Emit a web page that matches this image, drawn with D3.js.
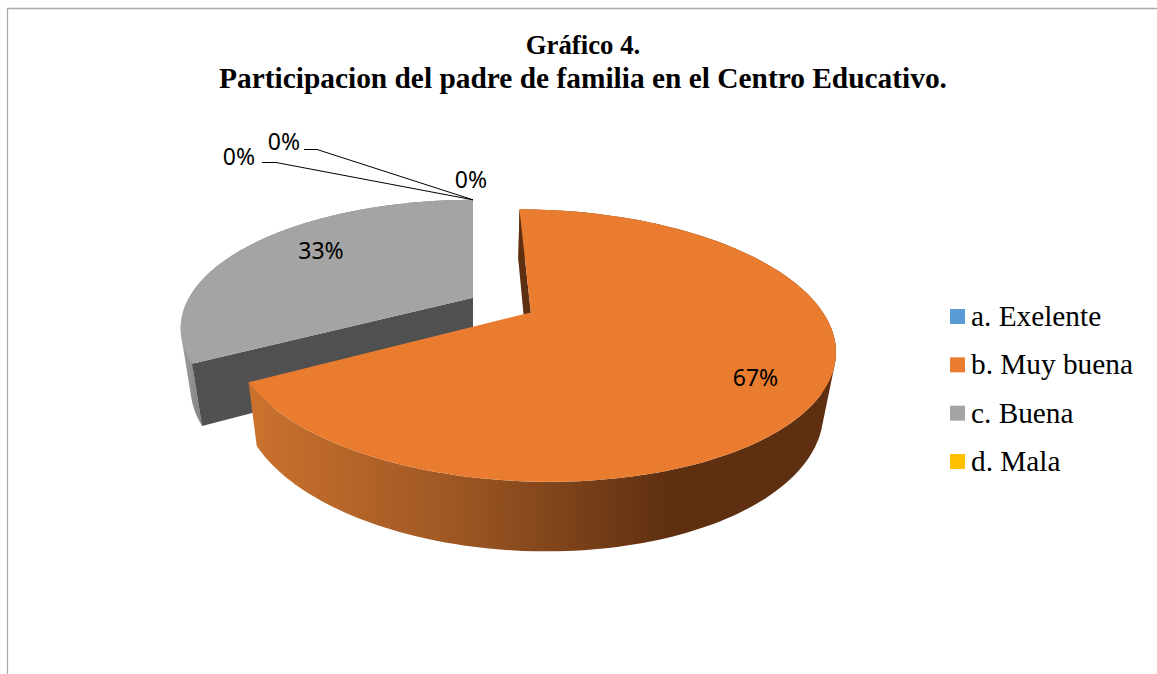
<!DOCTYPE html>
<html><head><meta charset="utf-8">
<script src="https://cdn.jsdelivr.net/npm/d3@7"></script>
<style>html,body{margin:0;padding:0;background:#fff;overflow:hidden}svg{display:block}</style>
</head><body><div id="c"></div>
<script>
const titleLines = ["Gráfico 4.", "Participacion del padre de familia en el Centro Educativo."];
const categories = ["a. Exelente", "b. Muy buena", "c. Buena", "d. Mala"];
const values = [0, 67, 33, 0];
const colors = ["#5B9BD5", "#EA7C30", "#A4A4A4", "#FFC000"];

const W = 1157, H = 674;
const svg = d3.select("#c").append("svg").attr("width", W).attr("height", H);
const color = d3.scaleOrdinal(categories, colors);

// frame
svg.append("path").attr("d", `M7.5 ${H}V8.5H${W}`).attr("fill", "none").attr("stroke", "#ababab").attr("stroke-width", 1.3);

// title
svg.append("text").attr("x", 583).attr("y", 54).attr("text-anchor", "middle")
  .style("font", "bold 26.8px 'Liberation Serif'").attr("fill", "#000").text(titleLines[0]);
svg.append("text").attr("x", 583).attr("y", 88).attr("text-anchor", "middle")
  .style("font", "bold 29.4px 'Liberation Serif'").attr("fill", "#000").text(titleLines[1]);

// perspective projection of the exploded pie
const X0 = 473, Y0 = 305, S = 288, A = 124.6, B = 60, P = 0.24, Q = 0.033, EX = 0.115, XC = -0.099;
function project(x, y, low) {
  const w = 1 - P * y + (low ? Q : 0);
  return [X0 + S * (x - XC) / w, Y0 + (A * y + (low ? B : 0)) / w];
}
const pie = d3.pie().sort(null).value(d => d.v).startAngle(0).endAngle(2 * Math.PI);
const arcs = pie(categories.map((c, i) => ({c, v: values[i]})));
const line = d3.line();

arcs.forEach(a => { a.mid = (a.startAngle + a.endAngle) / 2; a.ox = EX * Math.sin(a.mid); a.oy = -EX * Math.cos(a.mid); });
const rim = (a, t) => [a.ox + Math.sin(t), a.oy - Math.cos(t)];
const rimPts = (a, low) =>
  d3.range(0, 181).map(i => { const t = a.startAngle + (a.endAngle - a.startAngle) * i / 180; const [x, y] = rim(a, t); return project(x, y, low); });

const defs = svg.append("defs");
const g1 = defs.append("linearGradient").attr("id", "wallB").attr("gradientUnits", "userSpaceOnUse")
  .attr("x1", 250).attr("x2", 672).attr("y1", 0).attr("y2", 0);
[[0, "#CB722D"], [0.5, "#9C5623"], [1, "#5E2F11"]].forEach(s => g1.append("stop").attr("offset", s[0]).attr("stop-color", s[1]));
const g2 = defs.append("linearGradient").attr("id", "wallC").attr("gradientUnits", "userSpaceOnUse")
  .attr("x1", 178).attr("x2", 205).attr("y1", 0).attr("y2", 0);
[[0, "#A3A3A3"], [1, "#7E7E7E"]].forEach(s => g2.append("stop").attr("offset", s[0]).attr("stop-color", s[1]));

const fills = {
  "b. Muy buena": {wall: "url(#wallB)", face: "#5E2F11"},
  "c. Buena": {wall: "url(#wallC)", face: "#505050"}
};

const drawn = arcs.filter(a => a.value > 0).sort((p, q) => q.mid - p.mid); // c first, b on top
drawn.forEach(a => {
  const f = fills[a.data.c];
  const g = svg.append("g");
  const apexT = project(a.ox, a.oy, false), apexL = project(a.ox, a.oy, true);
  const t0 = rimPts(a, false), l0 = rimPts(a, true);
  // outer wall: one path of equally wound quads, so there are no seams and the silhouette stays closed
  const quads = d3.range(t0.length - 1).map(i => {
    const q = [t0[i], t0[i + 1], l0[i + 1], l0[i]];
    return line(d3.polygonArea(q) < 0 ? q.reverse() : q) + "Z";
  }).join("");
  g.append("path").attr("d", quads).attr("fill", f.wall);
  // radial face at the start of the slice
  g.append("path").attr("d", line([apexT, t0[0], l0[0], apexL]) + "Z").attr("fill", f.face);
  // top surface
  g.append("path").attr("d", line([apexT].concat(t0)) + "Z").attr("fill", color(a.data.c));
});

// value labels
const fmt = d3.format(".0%");
const total = d3.sum(values);
const lab = "23px 'Noto Sans'";
const labelK = {"b. Muy buena": 0.8, "c. Buena": 0.72};
const labelNudge = {"b. Muy buena": [-5, 8], "c. Buena": [10, -6]};
drawn.forEach(a => {
  const [x, y] = rim(a, a.mid);
  const k = labelK[a.data.c], n = labelNudge[a.data.c];
  const p = project(a.ox + (x - a.ox) * k, a.oy + (y - a.oy) * k, false);
  svg.append("text").attr("x", p[0] + n[0]).attr("y", p[1] + 8 + n[1]).attr("text-anchor", "middle").style("font", lab).attr("fill", "#000")
    .text(fmt(a.value / total));
});
// zero-value labels with leader lines
const zeroLabels = [[239, 165], [284, 150], [471, 188]];
const zeros = [fmt(values[0] / total), fmt(0), fmt(values[3] / total)];
zeroLabels.forEach((p, i) => svg.append("text").attr("x", p[0]).attr("y", p[1]).attr("text-anchor", "middle").style("font", lab).attr("fill", "#000").text(zeros[i]));
const tip = project(arcs[2].ox, arcs[2].oy - 1, false);
[[[262, 162.5], [276, 162.5], tip], [[304, 149.5], [317, 149.5], tip]].forEach(pts =>
  svg.append("path").attr("d", line(pts)).attr("fill", "none").attr("stroke", "#000").attr("stroke-width", 1));

// legend
const ly = d3.scalePoint(categories, [309, 454]);
const lg = svg.append("g").selectAll("g").data(categories).join("g").attr("transform", d => `translate(950,${ly(d)})`);
lg.append("rect").attr("width", 15).attr("height", 15).attr("fill", d => color(d));
lg.append("text").attr("x", 21).attr("y", 17).style("font", "29.3px 'Liberation Serif'").attr("fill", "#000").text(d => d);
</script></body></html>
